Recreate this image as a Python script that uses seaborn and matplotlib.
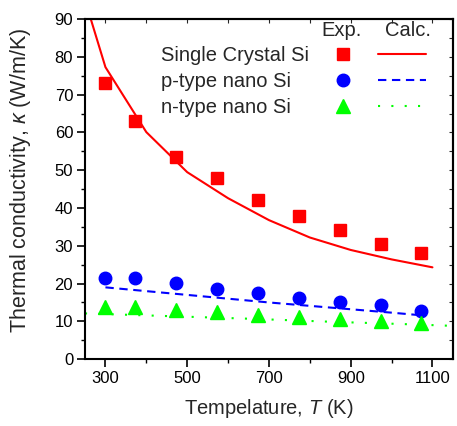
import matplotlib
matplotlib.use("Agg")
import matplotlib.pyplot as plt
from matplotlib.lines import Line2D
import seaborn as sns
import pandas as pd

# ---- data ----
temp_exp = [300, 373, 473, 573, 673, 773, 873, 973, 1073]
single_exp = [73.0, 63.0, 53.5, 48.0, 42.0, 37.8, 34.2, 30.5, 28.0]
ptype_exp = [21.6, 21.4, 20.2, 18.6, 17.4, 16.3, 15.2, 14.3, 12.8]
ntype_exp = [13.8, 13.8, 13.0, 12.4, 11.7, 11.2, 10.7, 10.1, 9.5]

temp_single_calc = [260, 300, 400, 500, 600, 700, 800, 900, 1000, 1100]
single_calc = [91.5, 77.3, 60.1, 49.5, 42.6, 36.8, 32.2, 28.9, 26.4, 24.3]
temp_p_calc = [300, 400, 500, 600, 700, 800, 900, 1000, 1073]
ptype_calc = [19.0, 18.0, 17.0, 16.0, 15.0, 14.1, 13.2, 12.3, 11.6]
temp_n_calc = [250, 450, 650, 850, 1050, 1150]
ntype_calc = [12.1, 11.4, 10.7, 9.9, 9.2, 8.8]

labels = ["Single Crystal Si", "p-type nano Si", "n-type nano Si"]
colors = ["#FF0000", "#0000FF", "#00FF00"]
markers = ["s", "o", "^"]
msizes = [8, 9, 10]
styles = ["-", (0, (4, 2.7)), (0, (1, 5.4))]

sns.set_theme(style="ticks")
plt.rcParams['font.family'] = ['Liberation Sans', 'DejaVu Sans']
plt.rcParams['mathtext.fontset'] = 'custom'
plt.rcParams['mathtext.rm'] = 'Liberation Sans'
plt.rcParams['mathtext.it'] = 'Liberation Sans:italic'

fig = plt.figure(figsize=(4.57, 4.26), dpi=100)
ax = fig.add_axes([0.186, 0.157, 0.805, 0.798])

exp_sets = [single_exp, ptype_exp, ntype_exp]
calc_sets = [(temp_single_calc, single_calc), (temp_p_calc, ptype_calc), (temp_n_calc, ntype_calc)]

for i in range(3):
    tx, vy = calc_sets[i]
    dfc = pd.DataFrame({"T": tx, "k": vy})
    sns.lineplot(data=dfc, x="T", y="k", ax=ax, color=colors[i], lw=1.5, zorder=2)
    ax.lines[-1].set_linestyle(styles[i])
for i in range(3):
    dfe = pd.DataFrame({"T": temp_exp, "k": exp_sets[i]})
    ax.plot(dfe["T"], dfe["k"], linestyle="none", marker=markers[i],
            ms=msizes[i], color=colors[i], mec=colors[i], zorder=3)

ax.set_xlim(250, 1150)
ax.set_ylim(0, 90)
ax.set_xticks([300, 500, 700, 900, 1100])
ax.set_xticks([400, 600, 800, 1000], minor=True)
ax.set_yticks(range(0, 91, 10))
ax.set_yticks(range(5, 90, 10), minor=True)
ax.tick_params(axis="both", which="major", direction="out", length=5.5, width=1.2,
               labelsize=12, color="black", labelcolor="black", pad=3)
ax.tick_params(axis="both", which="minor", direction="out", length=3, width=1.0, color="black")
for s in ax.spines.values():
    s.set_linewidth(1.5)
    s.set_color("black")

secx = ax.secondary_xaxis("top")
secx.set_xticks([300, 500, 700, 900, 1100])
secx.set_xticks([400, 600, 800, 1000], minor=True)
secx.tick_params(which="both", direction="in", length=3, width=0.8, labeltop=False)
secx.spines["top"].set_linewidth(1.5)
secy = ax.secondary_yaxis("right")
secy.set_yticks(range(0, 91, 10))
secy.set_yticks(range(5, 90, 10), minor=True)
secy.tick_params(which="both", direction="in", length=3, width=0.8, labelright=False)
secy.spines["right"].set_linewidth(1.5)

ax.set_xlabel("Tempelature, $\\mathit{T}$ (K)", fontsize=14.5, labelpad=8)
ax.set_ylabel("Thermal conductivity, $\\mathit{\\kappa}$ (W/m/K)", fontsize=15.5)
ax.yaxis.set_label_coords(-0.14, 0.525)

# legend: column 1 labels, column 2 experimental markers, column 3 calculated lines
h_blank = [Line2D([], [], linestyle="none") for _ in range(3)]
h_exp = [Line2D([], [], linestyle="none", marker=markers[i], ms=msizes[i],
                color=colors[i]) for i in range(3)]
h_calc = [Line2D([], [], color=colors[i], lw=1.5, linestyle=styles[i]) for i in range(3)]
ax.legend(h_blank + h_exp + h_calc, labels + [""] * 6, ncol=3,
          frameon=False, fontsize=14.5, handlelength=2.39, handletextpad=0.1,
          columnspacing=0.45, labelspacing=0.35, loc="upper right",
          bbox_to_anchor=(0.932, 0.922), borderaxespad=0, borderpad=0)
ax.text(0.698, 0.966, "Exp.", transform=ax.transAxes, ha="center", va="center", fontsize=14.5)
ax.text(0.878, 0.966, "Calc.", transform=ax.transAxes, ha="center", va="center", fontsize=14.5)

fig.savefig("out.png", dpi=100)
